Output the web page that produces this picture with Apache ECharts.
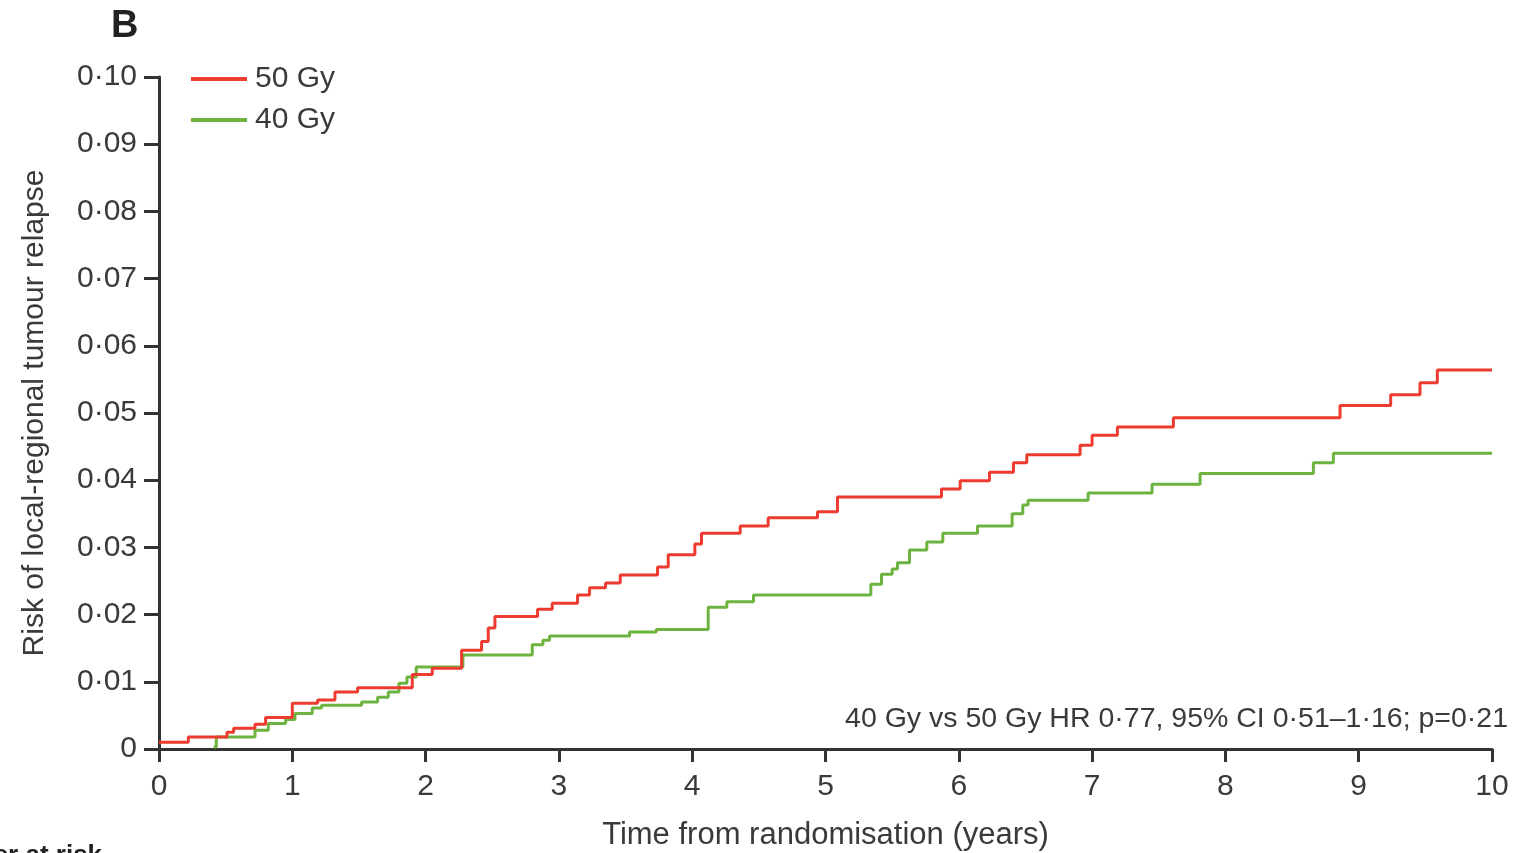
<!DOCTYPE html>
<html>
<head>
<meta charset="utf-8">
<script src="https://cdn.jsdelivr.net/npm/echarts@6/dist/echarts.min.js"></script>
<style>
html,body{margin:0;padding:0;background:#fff;}
#chart{width:1525px;height:853px;}
</style>
</head>
<body>
<div id="chart"></div>
<script>
// ---- data ----
const xTicks = [0,1,2,3,4,5,6,7,8,9,10];
const yTicks = [0,0.01,0.02,0.03,0.04,0.05,0.06,0.07,0.08,0.09,0.10];
const seriesNames = ['50 Gy','40 Gy'];

const red50T = [0, 0.22, 0.51, 0.56, 0.72, 0.80, 1.00, 1.19, 1.32, 1.49, 1.90, 2.05, 2.27, 2.42, 2.47, 2.52, 2.84, 2.95, 3.14, 3.23, 3.35, 3.46, 3.74, 3.82, 4.02, 4.07, 4.36, 4.57, 4.94, 5.09, 5.87, 6.01, 6.23, 6.41, 6.51, 6.91, 7.00, 7.19, 7.61, 8.86, 9.24, 9.46, 9.59, 10.0];
const red50V = [0.0010, 0.0018, 0.0025, 0.0031, 0.0037, 0.0047, 0.0068, 0.0073, 0.0085, 0.0091, 0.0111, 0.0120, 0.0147, 0.0160, 0.0180, 0.0197, 0.0208, 0.0217, 0.0229, 0.0240, 0.0247, 0.0259, 0.0271, 0.0289, 0.0305, 0.0321, 0.0332, 0.0344, 0.0353, 0.0375, 0.0387, 0.0399, 0.0412, 0.0426, 0.0438, 0.0452, 0.0467, 0.0479, 0.0493, 0.0511, 0.0527, 0.0545, 0.0564, 0.0564];

const green40T = [0.41, 0.43, 0.72, 0.82, 0.95, 1.02, 1.15, 1.22, 1.52, 1.64, 1.72, 1.80, 1.86, 1.93, 2.28, 2.80, 2.88, 2.93, 3.53, 3.73, 4.12, 4.26, 4.46, 5.34, 5.42, 5.50, 5.54, 5.63, 5.76, 5.88, 6.14, 6.40, 6.48, 6.52, 6.97, 7.45, 7.81, 8.66, 8.81, 10.0];
const green40V = [0.0003, 0.0018, 0.0028, 0.0038, 0.0044, 0.0053, 0.0061, 0.0065, 0.0070, 0.0077, 0.0085, 0.0098, 0.0107, 0.0122, 0.0140, 0.0155, 0.0162, 0.0168, 0.0174, 0.0178, 0.0211, 0.0219, 0.0229, 0.0245, 0.0260, 0.0268, 0.0277, 0.0296, 0.0308, 0.0321, 0.0332, 0.0350, 0.0363, 0.0370, 0.0381, 0.0394, 0.0410, 0.0426, 0.0440, 0.0440];

const annotation = '40 Gy vs 50 Gy HR 0·77, 95% CI 0·51–1·16; p=0·21';
const xName = 'Time from randomisation (years)';
const yName = 'Risk of local-regional tumour relapse';
const panelLabel = 'B';

// ---- chart ----
const FONT = '"Liberation Sans", "DejaVu Sans", sans-serif';
const TXT = '#3a3a3a';
const pairs = (t, v) => t.map((x, i) => [x, v[i]]);
const fmtY = v => (v === 0 ? '0' : v.toFixed(2).replace('.', '·'));

const chart = echarts.init(document.getElementById('chart'));
chart.setOption({
  animation: false,
  backgroundColor: '#fff',
  grid: {left: 159, right: 33, top: 77, bottom: 104, containLabel: false, outerBoundsMode: 'none'},
  legend: {
    orient: 'vertical', left: 186, top: 59, itemGap: 11,
    itemWidth: 56, itemHeight: 4, icon: 'rect',
    textStyle: {fontFamily: FONT, fontSize: 30, color: TXT, padding: [0,0,0,3]},
    data: seriesNames
  },
  xAxis: {
    type: 'value', min: 0, max: 10, interval: 1,
    name: xName, nameLocation: 'middle', nameGap: 71,
    nameTextStyle: {fontFamily: FONT, fontSize: 31, color: TXT},
    axisLine: {show: true, lineStyle: {color: '#333', width: 3}},
    axisTick: {show: true, inside: false, length: 13, lineStyle: {color: '#333', width: 3}},
    axisLabel: {fontFamily: FONT, fontSize: 30, color: TXT, margin: 23,
      formatter: v => String(v)},
    splitLine: {show: false}
  },
  yAxis: {
    type: 'value', min: 0, max: 0.10, interval: 0.01,
    name: yName, nameLocation: 'middle', nameGap: 109,
    nameTextStyle: {fontFamily: FONT, fontSize: 30, color: TXT},
    axisLine: {show: true, lineStyle: {color: '#333', width: 3}},
    axisTick: {show: true, length: 15, lineStyle: {color: '#333', width: 3}},
    axisLabel: {fontFamily: FONT, fontSize: 30, color: TXT, margin: 22, formatter: fmtY},
    splitLine: {show: false}
  },
  series: [
    {name: seriesNames[0], type: 'line', step: 'end', showSymbol: false, symbol: 'none',
     data: pairs(red50T, red50V), color: '#ee3b2f',
     lineStyle: {color: '#ee3b2f', width: 3}, z: 3},
    {name: seriesNames[1], type: 'line', step: 'end', showSymbol: false, symbol: 'none',
     data: pairs(green40T, green40V), color: '#6cb33f',
     lineStyle: {color: '#6cb33f', width: 3}, z: 2}
  ],
  graphic: [
    {type: 'text', left: 111, top: 8, style: {text: panelLabel, font: 'bold 38px ' + FONT, fill: '#222'}},
    {type: 'text', right: 17, top: 705, style: {text: annotation, font: '28.5px ' + FONT, fill: TXT}},
    {type: 'text', left: -80, top: 843, style: {text: 'Number at risk', font: 'bold 26px ' + FONT, fill: '#222'}}
  ]
});
</script>
</body>
</html>
